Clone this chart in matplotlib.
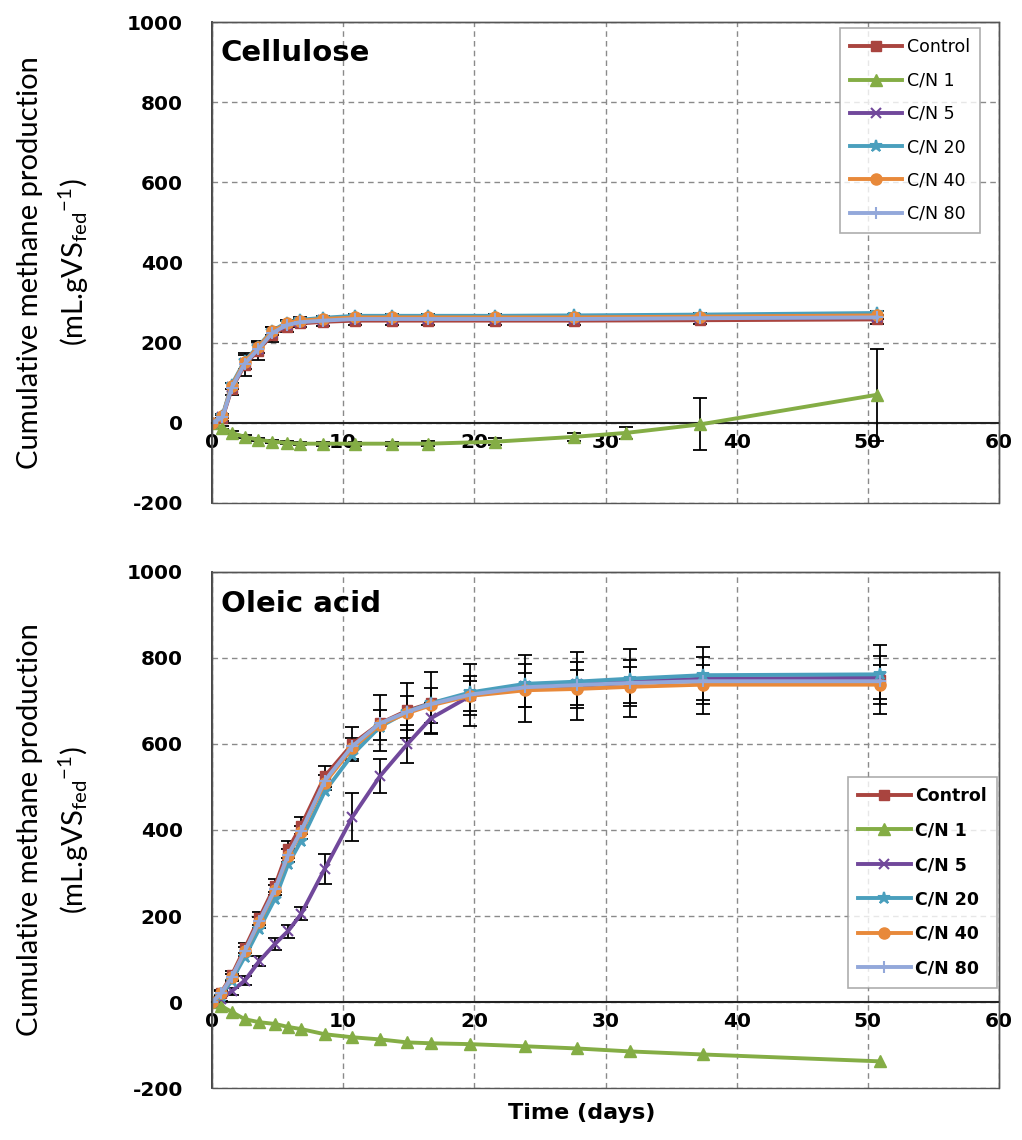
import matplotlib
matplotlib.use("Agg")
import matplotlib.pyplot as plt
from matplotlib.lines import Line2D
import matplotlib.patches as mpatches

plt.rcParams['mathtext.default'] = 'regular'
plt.rcParams['axes.unicode_minus'] = False

# ---------------- data ----------------
series_names = ["Control", "C/N 1", "C/N 5", "C/N 20", "C/N 40", "C/N 80"]
colors = ["#A9443F", "#84AD45", "#71489B", "#4A9FBD", "#E8893A", "#93A8DA"]
markers = ["s", "^", "x", "*", "o", "+"]

# Cellulose
t_cel = [0, 0.8, 1.5, 2.5, 3.5, 4.6, 5.7, 6.7, 8.5, 10.9, 13.7, 16.5, 21.6, 27.6, 37.2, 50.7]
cel_control = [0, 12, 85, 145, 180, 220, 240, 248, 252, 255, 255, 255, 255, 255, 256, 258]
cel_cn5 = [0, 15, 90, 150, 185, 225, 245, 252, 257, 260, 260, 260, 260, 260, 262, 264]
cel_cn20 = [0, 18, 95, 155, 190, 230, 250, 257, 262, 267, 267, 267, 267, 268, 270, 274]
cel_cn40 = [0, 16, 92, 152, 188, 228, 248, 255, 259, 263, 263, 263, 263, 263, 265, 268]
cel_cn80 = [0, 14, 88, 148, 183, 224, 244, 251, 255, 259, 259, 259, 259, 259, 261, 263]
cel_err_control = [0, 8, 15, 28, 22, 18, 14, 10, 10, 10, 10, 10, 10, 10, 10, 12]
cel_err_cn40 = [0, 5, 8, 18, 15, 10, 8, 8, 8, 8, 8, 8, 8, 8, 8, 10]

t_cel_cn1 = [0, 0.8, 1.5, 2.5, 3.5, 4.6, 5.7, 6.7, 8.5, 10.9, 13.7, 16.5, 21.6, 27.6, 31.6, 37.2, 50.7]
cel_cn1 = [0, -12, -25, -35, -42, -47, -50, -52, -52, -52, -52, -52, -47, -35, -25, -4, 70]
cel_err_cn1 = [0, 3, 4, 4, 4, 4, 4, 4, 5, 5, 5, 6, 8, 10, 15, 65, 115]

# Oleic acid
t_ole = [0, 0.7, 1.5, 2.5, 3.6, 4.8, 5.8, 6.8, 8.6, 10.7, 12.8, 14.9, 16.7, 19.7, 23.9, 27.8, 31.9, 37.4, 50.9]
ole_control = [0, 22, 62, 125, 195, 270, 355, 410, 525, 600, 648, 678, 695, 715, 730, 735, 742, 748, 750]
ole_cn5 = [0, 8, 25, 50, 95, 135, 165, 205, 310, 430, 525, 600, 660, 712, 735, 740, 745, 752, 754]
ole_cn20 = [0, 15, 50, 105, 170, 240, 320, 375, 490, 575, 640, 675, 695, 720, 740, 745, 752, 760, 762]
ole_cn40 = [0, 20, 58, 118, 185, 260, 340, 395, 510, 590, 645, 672, 690, 712, 725, 728, 733, 738, 738]
ole_cn80 = [0, 20, 58, 118, 188, 262, 342, 398, 515, 595, 648, 675, 693, 715, 732, 737, 742, 746, 746]
ole_cn1 = [0, -9, -23, -40, -47, -51, -58, -63, -75, -82, -87, -94, -96, -98, -103, -108, -115, -122, -138]
ole_err_control = [0, 6, 10, 12, 15, 15, 20, 20, 25, 40, 65, 65, 72, 72, 78, 80, 80, 78, 80]
ole_err_cn5 = [0, 5, 8, 10, 12, 15, 15, 15, 35, 55, 40, 45, 35, 45, 50, 50, 50, 50, 50]
ole_err_cn40 = [0, 5, 8, 10, 12, 12, 15, 15, 18, 25, 35, 40, 40, 35, 40, 45, 45, 45, 45]

xticks = [0, 10, 20, 30, 40, 50, 60]
yticks = [-200, 0, 200, 400, 600, 800, 1000]

# ---------------- figure ----------------
W, H = 1022, 1140
fig = plt.figure(figsize=(W / 100, H / 100), dpi=100)

ax_top = fig.add_axes([212 / W, 1 - 503 / H, (999 - 212) / W, (503 - 22) / H])
ax_bot = fig.add_axes([212 / W, 1 - 1088 / H, (999 - 212) / W, (1088 - 572) / H])

msizes = {"s": 7, "^": 8, "x": 7, "*": 9, "o": 8, "+": 9}


def style_axes(ax, title):
    ax.set_xlim(0, 60)
    ax.set_ylim(-200, 1000)
    ax.set_xticks(xticks)
    ax.set_yticks(yticks)
    ax.grid(True, color="#8a8a8a", linestyle=(0, (4, 3)), linewidth=1.0)
    ax.set_axisbelow(True)
    for s in ["top", "right"]:
        ax.spines[s].set_color("#555555")
        ax.spines[s].set_linewidth(1.0)
    ax.spines["left"].set_color("#333333")
    ax.spines["left"].set_linewidth(1.3)
    ax.spines["bottom"].set_position(("data", 0))
    ax.spines["bottom"].set_color("#222222")
    ax.spines["bottom"].set_linewidth(1.5)
    ax.add_patch(mpatches.Rectangle((0, 0), 1, 1, transform=ax.transAxes,
                                    fill=False, edgecolor="#555555", linewidth=1.0,
                                    zorder=5, clip_on=False))
    ax.tick_params(axis="both", length=0, labelsize=14.5)
    for lab in ax.get_xticklabels() + ax.get_yticklabels():
        lab.set_fontweight("bold")
    ax.tick_params(axis="x", pad=7)
    ax.tick_params(axis="y", pad=21)
    ax.text(0.011, 0.965, title, transform=ax.transAxes, fontsize=21,
            fontweight="bold", va="top", ha="left")
    ax.set_ylabel("Cumulative methane production\n(mL.gVS$_{fed}$$^{-1}$)",
                  family="Lato", fontsize=21, labelpad=26, linespacing=1.5)


def draw(ax, t, y, idx, err=None):
    if err is not None:
        ax.errorbar(t, y, yerr=err, fmt="none", ecolor="black", elinewidth=1.3,
                    capsize=5, capthick=1.3, zorder=3)
    m = markers[idx]
    ax.plot(t, y, color=colors[idx], linewidth=2.8, marker=m, markersize=msizes[m],
            markeredgecolor=colors[idx], markeredgewidth=1.5 if m in "x*+" else 1.0,
            zorder=4 if idx != 5 else 4.5)


# Cellulose panel
draw(ax_top, t_cel, cel_control, 0, cel_err_control)
draw(ax_top, t_cel_cn1, cel_cn1, 1, cel_err_cn1)
draw(ax_top, t_cel, cel_cn5, 2)
draw(ax_top, t_cel, cel_cn20, 3)
draw(ax_top, t_cel, cel_cn40, 4, cel_err_cn40)
draw(ax_top, t_cel, cel_cn80, 5)
style_axes(ax_top, "Cellulose")

# Oleic acid panel
draw(ax_bot, t_ole, ole_control, 0, ole_err_control)
draw(ax_bot, t_ole, ole_cn1, 1)
draw(ax_bot, t_ole, ole_cn5, 2, ole_err_cn5)
draw(ax_bot, t_ole, ole_cn20, 3)
draw(ax_bot, t_ole, ole_cn40, 4, ole_err_cn40)
draw(ax_bot, t_ole, ole_cn80, 5)
style_axes(ax_bot, "Oleic acid")


def legend_handles():
    hs = []
    for i, name in enumerate(series_names):
        m = markers[i]
        hs.append(Line2D([], [], color=colors[i], linewidth=2.8, marker=m,
                         markersize=msizes[m], markeredgecolor=colors[i],
                         markeredgewidth=1.5 if m in "x*+" else 1.0, label=name))
    return hs


leg1 = ax_top.legend(handles=legend_handles(), loc="upper right",
                     bbox_to_anchor=(0.976, 0.9875), borderaxespad=0,
                     fontsize=12.5, frameon=True,
                     fancybox=False, edgecolor="#999999", handlelength=3.0,
                     labelspacing=0.88, borderpad=0.6, handletextpad=0.25)
leg1.get_frame().set_linewidth(1.2)
leg1.set_zorder(10)

leg2 = ax_bot.legend(handles=legend_handles(), loc="lower right",
                     bbox_to_anchor=(0.9975, 0.194), borderaxespad=0, frameon=True,
                     prop={"weight": "bold", "size": 12.5},
                     fancybox=False, edgecolor="#999999", handlelength=3.0,
                     labelspacing=0.95, borderpad=0.6, handletextpad=0.25)
leg2.get_frame().set_linewidth(1.2)
leg2.set_zorder(10)

fig.text(582 / W, 1 - 1113 / H, "Time (days)", fontsize=16, fontweight="bold",
         ha="center", va="center")

fig.savefig("out.png", dpi=100, facecolor="white")
